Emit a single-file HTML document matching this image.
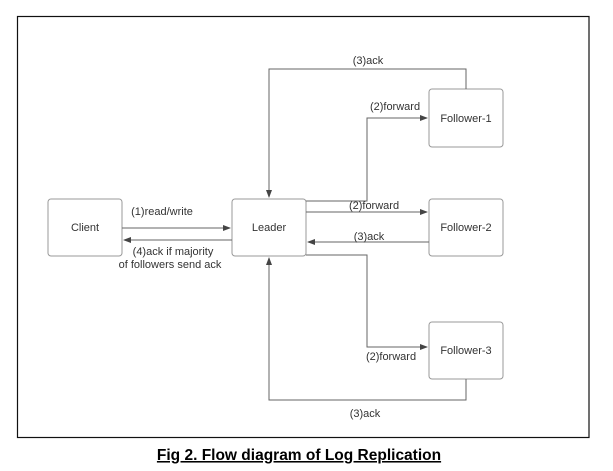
<!DOCTYPE html>
<html><head><meta charset="utf-8"><style>
html,body{margin:0;padding:0;background:#fff;}
svg{display:block;}
text{font-family:"Liberation Sans",sans-serif;font-size:11px;fill:#333;}
</style></head><body>
<svg width="613" height="471" viewBox="0 0 613 471" xmlns="http://www.w3.org/2000/svg">
<defs><marker id="a" markerWidth="8" markerHeight="6" refX="7" refY="3" orient="auto" markerUnits="userSpaceOnUse"><path d="M0,0 L8,3 L0,6 Z" fill="#444"/></marker></defs>
<rect x="17.5" y="16.5" width="571.5" height="421" fill="none" stroke="#111" stroke-width="1.2"/>
<g fill="#fff" stroke="#999" stroke-width="1">
<rect x="48" y="199" width="74" height="57" rx="3"/>
<rect x="232" y="199" width="74" height="57" rx="3"/>
<rect x="429" y="89" width="74" height="58" rx="3"/>
<rect x="429" y="199" width="74" height="57" rx="3"/>
<rect x="429" y="322" width="74" height="57" rx="3"/>
</g>
<g fill="none" stroke="#666" stroke-width="1">
<path d="M466 89 V69 H269 V197" marker-end="url(#a)"/>
<path d="M306 201 H367 V118 H427" marker-end="url(#a)"/>
<path d="M306 212 H427" marker-end="url(#a)"/>
<path d="M429 242 H308" marker-end="url(#a)"/>
<path d="M122 228 H230" marker-end="url(#a)"/>
<path d="M232 240 H124" marker-end="url(#a)"/>
<path d="M306 255 H367 V347 H427" marker-end="url(#a)"/>
<path d="M466 379 V400 H269 V258" marker-end="url(#a)"/>
</g>
<g text-anchor="middle">
<text x="85" y="231">Client</text>
<text x="269" y="231">Leader</text>
<text x="466" y="122">Follower-1</text>
<text x="466" y="231">Follower-2</text>
<text x="466" y="354">Follower-3</text>
<text x="368" y="64">(3)ack</text>
<text x="395" y="110">(2)forward</text>
<text x="374" y="209">(2)forward</text>
<text x="369" y="240">(3)ack</text>
<text x="162" y="215">(1)read/write</text>
<text x="173" y="255">(4)ack if majority</text>
<text x="170" y="268">of followers send ack</text>
<text x="391" y="360">(2)forward</text>
<text x="365" y="417">(3)ack</text>
<text x="299" y="460" style="font-size:15.5px;font-weight:bold;fill:#000;text-decoration:underline;">Fig 2. Flow diagram of Log Replication</text>
</g>
</svg>
</body></html>
